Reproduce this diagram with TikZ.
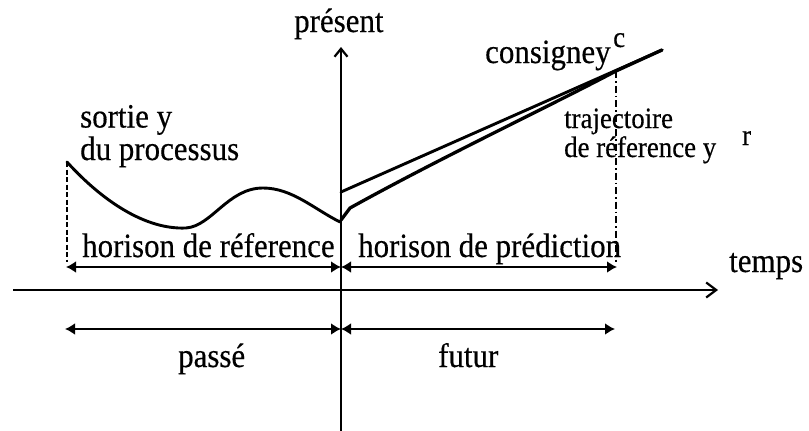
\documentclass[tikz,border=0pt]{standalone}
\usepackage{fontspec}
\setmainfont{Liberation Serif}[FakeStretch=0.91, FakeBold=0.4]
\usetikzlibrary{arrows.meta}
\begin{document}
\begin{tikzpicture}[x=1pt,y=-1pt,
  lbl/.style={inner sep=0pt, anchor=base west, font=\fontsize{34}{37}\selectfont},
  smalllbl/.style={inner sep=0pt, anchor=base west, font=\fontsize{29.5}{32}\selectfont},
  axisline/.style={line width=2.2pt},
  spanarrow/.style={line width=2pt, {Latex[length=10pt,width=12pt]}-{Latex[length=10pt,width=12pt]}},
  curveline/.style={line width=2.9pt, line join=round, line cap=round},
  leftguide/.style={line width=1.4pt, dash pattern=on 5pt off 2.5pt},
  rightguide/.style={line width=1.4pt, dash pattern=on 7pt off 3pt on 1.5pt off 3pt}]
\useasboundingbox (0,0) rectangle (809,431);
% axes
\coordinate (vtop) at (341,47);
\coordinate (vbot) at (341,431);
\coordinate (hleft) at (13,290);
\coordinate (hright) at (718,290);
\draw[axisline,-{Straight Barb[length=8pt,width=13pt]}] (vbot) -- (vtop);
\draw[axisline,-{Straight Barb[length=10pt,width=15pt]}] (hleft) -- (hright);
% horizons
\coordinate (hrL) at (66,267);
\coordinate (hrR) at (341,267);
\coordinate (hpR) at (617,267);
\draw[spanarrow] (hrL) -- (hrR);
\draw[spanarrow] (hrR) -- (hpR);
% past / future
\coordinate (pL) at (65,329);
\coordinate (pM) at (341,329);
\coordinate (pR) at (615,329);
\draw[spanarrow] (pL) -- (pM);
\draw[spanarrow] (pM) -- (pR);
% process output curve
\coordinate (yStart) at (67,162);
\coordinate (yMin) at (186,228);
\coordinate (yPeak) at (263,188);
\coordinate (yNow) at (340,222);
\draw[curveline] (yStart) .. controls (95,193) and (140,230) .. (yMin)
  .. controls (212,226) and (228,188) .. (yPeak)
  .. controls (292,188) and (314,209) .. (yNow);
% guides
\coordinate (gL) at (67,262);
\draw[leftguide] (yStart) -- (gL);
\coordinate (mergeP) at (616,71);
\coordinate (gR) at (616,262);
\draw[rightguide] (mergeP) -- (gR);
% setpoint and reference trajectory
\coordinate (cStart) at (341,192);
\coordinate (cEnd) at (662,50);
\draw[curveline] (cStart) -- (cEnd);
\coordinate (rStart) at (341,220);
\coordinate (rKink) at (350,208);
\draw[curveline,line width=3.3pt] (rStart) -- (rKink) .. controls (440,158) and (550,106) .. (mergeP) -- (cEnd);
% labels
\node[lbl] (present) at (294,32) {présent};
\node[lbl] (sortie) at (80,127.5) {sortie y};
\node[lbl] (processus) at (80,160) {du processus};
\node[lbl] (consigne) at (485,63) {consigney};
\node[smalllbl] (csup) at (613,47) {c};
\node[smalllbl] (traj) at (564,128) {trajectoire};
\node[smalllbl] (deref) at (564,157) {de réference y};
\node[smalllbl] (rsup) at (742,145) {r};
\node[lbl] (hrtext) at (82,257) {horison de réference};
\node[lbl] (hptext) at (358,257) {horison de prédiction};
\node[lbl] (temps) at (729,272) {temps};
\node[lbl] (passe) at (178,367) {passé};
\node[lbl] (futur) at (438,367) {futur};
\end{tikzpicture}
\end{document}
